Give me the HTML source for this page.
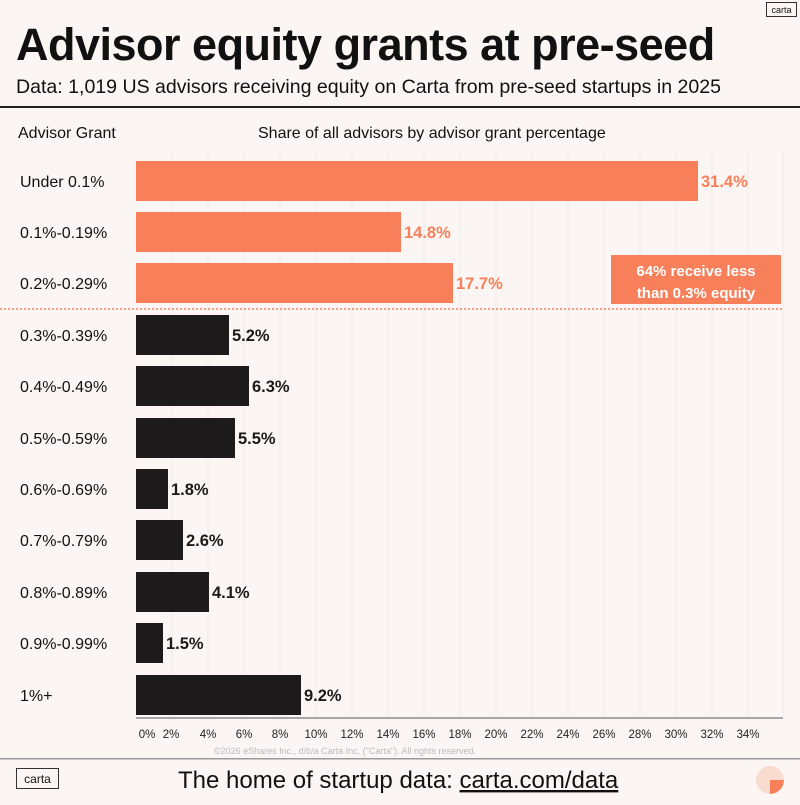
<!DOCTYPE html>
<html><head><meta charset="utf-8"><style>
body{margin:0;width:800px;height:800px;background:#fbf6f4;font-family:"Liberation Sans",sans-serif;overflow:hidden}
</style></head><body>
<svg width="800" height="800" xmlns="http://www.w3.org/2000/svg" font-family="Liberation Sans, sans-serif">
<rect width="800" height="800" fill="#fbf6f4"/>
<rect x="766.5" y="2.5" width="30" height="14" fill="none" stroke="#333" stroke-width="1"/>
<text x="781.5" y="13" font-size="9" text-anchor="middle" fill="#111">carta</text>
<text x="16" y="60" font-size="45" font-weight="bold" fill="#111" letter-spacing="-0.5">Advisor equity grants at pre-seed</text>
<text x="16" y="93" font-size="19.5" fill="#111" textLength="705" lengthAdjust="spacingAndGlyphs">Data: 1,019 US advisors receiving equity on Carta from pre-seed startups in 2025</text>
<rect x="0" y="106" width="800" height="2" fill="#222"/>
<text x="18" y="138" font-size="16" fill="#111">Advisor Grant</text>
<text x="258" y="138" font-size="16" fill="#111">Share of all advisors by advisor grant percentage</text>
<g stroke="#efe9e7" stroke-width="1">
<line x1="172" y1="150" x2="172" y2="718"/><line x1="208" y1="150" x2="208" y2="718"/><line x1="244" y1="150" x2="244" y2="718"/><line x1="280" y1="150" x2="280" y2="718"/><line x1="316" y1="150" x2="316" y2="718"/><line x1="352" y1="150" x2="352" y2="718"/><line x1="388" y1="150" x2="388" y2="718"/><line x1="424" y1="150" x2="424" y2="718"/><line x1="460" y1="150" x2="460" y2="718"/><line x1="496" y1="150" x2="496" y2="718"/><line x1="532" y1="150" x2="532" y2="718"/><line x1="568" y1="150" x2="568" y2="718"/><line x1="604" y1="150" x2="604" y2="718"/><line x1="640" y1="150" x2="640" y2="718"/><line x1="676" y1="150" x2="676" y2="718"/><line x1="712" y1="150" x2="712" y2="718"/><line x1="748" y1="150" x2="748" y2="718"/><line x1="783" y1="150" x2="783" y2="718"/>
</g>
<g font-size="16" fill="#111">
<text x="20" y="187">Under 0.1%</text><text x="20" y="238">0.1%-0.19%</text><text x="20" y="289">0.2%-0.29%</text><text x="20" y="341">0.3%-0.39%</text><text x="20" y="392">0.4%-0.49%</text><text x="20" y="444">0.5%-0.59%</text><text x="20" y="495">0.6%-0.69%</text><text x="20" y="546">0.7%-0.79%</text><text x="20" y="598">0.8%-0.89%</text><text x="20" y="649">0.9%-0.99%</text><text x="20" y="701">1%+</text>
</g>
<g fill="#f7805a">
<rect x="136" y="161" width="562" height="40"/><rect x="136" y="212" width="265" height="40"/><rect x="136" y="263" width="317" height="40"/>
<rect x="611" y="255" width="170" height="49"/>
</g>
<g fill="#1c1a1a">
<rect x="136" y="315" width="93" height="40"/><rect x="136" y="366" width="113" height="40"/><rect x="136" y="418" width="99" height="40"/><rect x="136" y="469" width="32" height="40"/><rect x="136" y="520" width="47" height="40"/><rect x="136" y="572" width="73" height="40"/><rect x="136" y="623" width="27" height="40"/><rect x="136" y="675" width="165" height="40"/>
</g>
<g font-size="16.5" font-weight="bold" fill="#f7805a">
<text x="701" y="187">31.4%</text><text x="404" y="238">14.8%</text><text x="456" y="289">17.7%</text>
</g>
<g font-size="16.5" font-weight="bold" fill="#1c1a1a">
<text x="232" y="341">5.2%</text><text x="252" y="392">6.3%</text><text x="238" y="444">5.5%</text><text x="171" y="495">1.8%</text><text x="186" y="546">2.6%</text><text x="212" y="598">4.1%</text><text x="166" y="649">1.5%</text><text x="304" y="701">9.2%</text>
</g>
<g font-size="15" font-weight="bold" fill="#fff" text-anchor="middle">
<text x="696" y="276">64% receive less</text><text x="696" y="298">than 0.3% equity</text>
</g>
<line x1="0" y1="309" x2="783" y2="309" stroke="#f7805a" stroke-width="1.5" stroke-dasharray="2,2"/>
<line x1="136" y1="718" x2="783" y2="718" stroke="#555" stroke-width="1"/>
<g font-size="11.5" fill="#222" text-anchor="middle">
<text x="147" y="738">0%</text><text x="171" y="738">2%</text><text x="208" y="738">4%</text><text x="244" y="738">6%</text><text x="280" y="738">8%</text><text x="316" y="738">10%</text><text x="352" y="738">12%</text><text x="388" y="738">14%</text><text x="424" y="738">16%</text><text x="460" y="738">18%</text><text x="496" y="738">20%</text><text x="532" y="738">22%</text><text x="568" y="738">24%</text><text x="604" y="738">26%</text><text x="640" y="738">28%</text><text x="676" y="738">30%</text><text x="712" y="738">32%</text><text x="748" y="738">34%</text>
</g>
<text x="345" y="754" font-size="9" fill="#bbb" text-anchor="middle">©2026 eShares Inc., d/b/a Carta Inc. ("Carta"). All rights reserved.</text>
<rect x="0" y="758" width="800" height="1.5" fill="#999"/>
<rect x="16.5" y="768.5" width="42" height="20" fill="none" stroke="#333" stroke-width="1"/>
<text x="37.5" y="783" font-size="12" text-anchor="middle" fill="#111">carta</text>
<text x="178" y="788" font-size="24" fill="#111">The home of startup data: <tspan text-decoration="underline">carta.com/data</tspan></text>
<circle cx="770" cy="780" r="14" fill="#f9c9b6" opacity="0.6"/>
<path d="M770 780 L784 780 A14 14 0 0 1 770 794 Z" fill="#f7805a"/>
</svg>
</body></html>
